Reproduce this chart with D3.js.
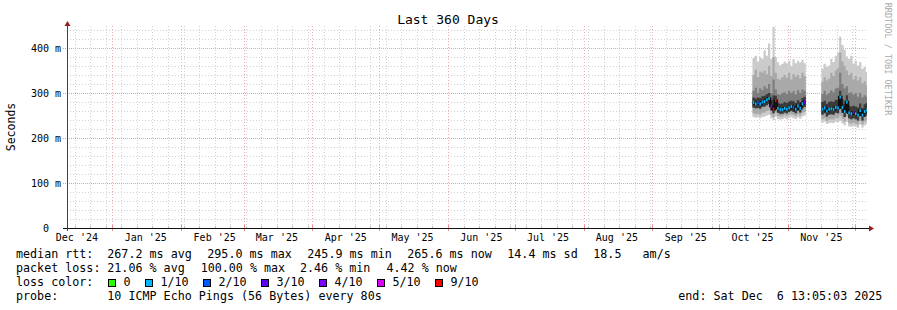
<!DOCTYPE html>
<html>
<head>
<meta charset="utf-8">
<script src="https://cdn.jsdelivr.net/npm/d3@7"></script>
<style>
  body { margin: 0; background: #fff; }
  svg { display: block; }
  text { font-family: "DejaVu Sans Mono", monospace; fill: #000; }
</style>
</head>
<body>
<div id="vis"></div>
<script>
// ---- data (values in ms) ----
// segment 1: one value per day starting 2025-10-16
const seg1Start = new Date(2025, 9, 16);
const min1    = [247, 245, 246, 244, 247, 248, 250, 252, 244, 240, 248, 242, 241, 242, 244, 242, 245, 246, 244, 242, 246, 243, 248, 250];
const lo2_1   = [255, 253, 254, 252, 256, 257, 260, 262, 252, 247, 257, 249, 248, 248, 251, 249, 252, 253, 251, 249, 253, 250, 256, 258];
const lo1_1   = [268, 266, 267, 265, 269, 270, 273, 276, 262, 255, 270, 256, 254, 254, 257, 255, 258, 260, 258, 255, 261, 257, 266, 269];
const median1 = [279, 276, 278, 276, 280, 281, 285, 288, 271, 264, 283, 266, 263, 263, 266, 264, 267, 270, 268, 264, 271, 266, 276, 280];
const hi1_1   = [290, 288, 290, 289, 293, 294, 298, 300, 284, 295, 294, 278, 276, 277, 280, 278, 281, 283, 282, 278, 284, 280, 289, 292];
const hi2_1   = [305, 312, 300, 310, 306, 315, 310, 320, 300, 330, 308, 298, 296, 300, 302, 298, 305, 300, 304, 297, 306, 300, 308, 305];
const hi3_1   = [340, 352, 335, 348, 345, 350, 342, 360, 338, 380, 345, 332, 330, 335, 340, 334, 345, 330, 342, 336, 340, 333, 345, 338];
const max1    = [378, 383, 370, 380, 376, 395, 383, 410, 376, 447, 380, 369, 362, 365, 370, 366, 372, 360, 375, 366, 372, 368, 374, 366];
const loss1   = [1, 1, 2, 1, 1, 1, 1, 1, 4, 9, 9, 1, 1, 1, 1, 1, 1, 1, 2, 1, 1, 1, 1, 4];

// segment 2: one value per day starting 2025-11-16
const seg2Start = new Date(2025, 10, 16);
const min2    = [234, 236, 231, 233, 234, 233, 236, 235, 238, 233, 228, 236, 226, 225, 226, 225, 223, 230, 223, 228, 231];
const lo2_2   = [242, 244, 238, 241, 242, 241, 245, 244, 250, 243, 236, 248, 234, 232, 234, 232, 230, 238, 230, 236, 239];
const lo1_2   = [252, 255, 248, 252, 253, 252, 256, 255, 275, 256, 247, 266, 244, 242, 244, 242, 239, 249, 239, 247, 250];
const median2 = [264, 267, 260, 264, 265, 264, 268, 267, 291, 268, 259, 280, 256, 254, 256, 254, 251, 261, 251, 259, 262];
const hi1_2   = [280, 283, 276, 280, 282, 280, 285, 284, 305, 286, 276, 295, 272, 270, 272, 270, 268, 277, 267, 275, 278];
const hi2_2   = [298, 305, 296, 300, 306, 302, 310, 312, 345, 320, 310, 315, 300, 302, 296, 300, 292, 300, 290, 295, 292];
const hi3_2   = [325, 335, 328, 332, 345, 338, 350, 355, 390, 370, 360, 350, 340, 345, 330, 338, 328, 335, 322, 326, 318];
const max2    = [354, 365, 358, 361, 376, 369, 383, 390, 425, 407, 396, 381, 376, 383, 365, 372, 361, 369, 354, 358, 347];
const loss2   = [1, 1, 1, 1, 1, 1, 1, 1, 1, 1, 1, 1, 1, 1, 4, 1, 1, 1, 1, 1, 1];

const monthLabels = ["Dec '24", "Jan '25", "Feb '25", "Mar '25", "Apr '25", "May '25",
                     "Jun '25", "Jul '25", "Aug '25", "Sep '25", "Oct '25", "Nov '25"];
const yTicks = [0, 100, 200, 300, 400];

const lossLabels = ["0", "1/10", "2/10", "3/10", "4/10", "5/10", "9/10"];
const lossLevels = [0, 1, 2, 3, 4, 5, 9];
const lossColors = ["#26ff00", "#00b8ff", "#0059ff", "#5e00ff", "#7e00ff", "#dd00ff", "#ff0000"];

const rttStats  = ["267.2 ms avg", "295.0 ms max", "245.9 ms min", "265.6 ms now", "14.4 ms sd", "18.5   am/s"];
const lossStats = ["21.06 % avg", "100.00 % max", "2.46 % min", "4.42 % now"];
const probeText = "10 ICMP Echo Pings (56 Bytes) every 80s";
const endText   = "end: Sat Dec  6 13:05:03 2025";

// ---- layout ----
const W = 897, H = 310;
const t0 = new Date(2024, 11, 11, 13, 5, 3),
      t1 = new Date(2025, 11, 6, 13, 5, 3);

const x = d3.scaleTime().domain([t0, t1]).range([67, 867]);
const y = d3.scaleLinear().domain([0, 449]).range([228, 26]);

const svg = d3.select("#vis").append("svg")
  .attr("width", W).attr("height", H);

svg.append("rect").attr("width", W).attr("height", H).attr("fill", "#fff");

const px = v => Math.round(v) + 0.5;

// grid
const grid = svg.append("g").attr("shape-rendering", "crispEdges").attr("fill", "none");

const weeks = d3.timeSunday.range(t0, t1);
const months = d3.timeMonth.range(t0, t1);

grid.selectAll(".vminor").data(weeks).enter().append("line")
  .attr("x1", d => px(x(d))).attr("x2", d => px(x(d)))
  .attr("y1", 26).attr("y2", 228)
  .attr("stroke", "#d2d2d2").attr("stroke-dasharray", "1,2");

d3.range(20, 449, 20).filter(v => v % 100 !== 0).forEach(v => {
  grid.append("line")
    .attr("x1", 67).attr("x2", 867)
    .attr("y1", px(y(v))).attr("y2", px(y(v)))
    .attr("stroke", "#d2d2d2").attr("stroke-dasharray", "1,2");
});

grid.selectAll(".vmajor").data(months).enter().append("line")
  .attr("x1", d => px(x(d))).attr("x2", d => px(x(d)))
  .attr("y1", 26).attr("y2", 231)
  .attr("stroke", "#f2acac").attr("stroke-dasharray", "1,2");

yTicks.filter(v => v > 0).forEach(v => {
  grid.append("line")
    .attr("x1", 63).attr("x2", 867)
    .attr("y1", px(y(v))).attr("y2", px(y(v)))
    .attr("stroke", "#ee9c9c").attr("stroke-dasharray", "1,1");
});

// smoke
svg.append("clipPath").attr("id", "plot")
  .append("rect").attr("x", 67).attr("y", 20).attr("width", 800).attr("height", 210);

const toPoints = (start, mn, l2, l1, md, h1, h2, h3, mx, ls) => {
  const pts = md.map((m, i) => ({
    date: d3.timeDay.offset(start, i),
    min: mn[i], lo2: l2[i], lo1: l1[i], med: m, hi1: h1[i], hi2: h2[i], hi3: h3[i], max: mx[i], loss: ls[i]
  }));
  // closing point for the last step
  pts.push(Object.assign({}, pts[pts.length - 1], { date: d3.timeDay.offset(start, md.length) }));
  return pts;
};

const segments = [
  toPoints(seg1Start, min1, lo2_1, lo1_1, median1, hi1_1, hi2_1, hi3_1, max1, loss1),
  toPoints(seg2Start, min2, lo2_2, lo1_2, median2, hi1_2, hi2_2, hi3_2, max2, loss2)
];

const layers = [
  { lo: "min", hi: "max", color: "#cbcbcb" },
  { lo: "lo2", hi: "hi3", color: "#a9a9a9" },
  { lo: "lo1", hi: "hi2", color: "#7e7e7e" },
  { lo: "lo1", hi: "hi1", color: "#3a3a3a" }
];

const smoke = svg.append("g").attr("clip-path", "url(#plot)");

segments.forEach(seg => {
  layers.forEach(l => {
    const area = d3.area()
      .curve(d3.curveStepAfter)
      .x(d => x(d.date))
      .y0(d => y(d[l.lo]))
      .y1(d => y(d[l.hi]));
    smoke.append("path").datum(seg).attr("d", area).attr("fill", l.color);
  });

  const medLine = d3.line().curve(d3.curveStepAfter).x(d => x(d.date)).y(d => y(d.med));
  smoke.append("path").datum(seg).attr("d", medLine)
    .attr("fill", "none").attr("stroke", "#111").attr("stroke-width", 2.5);

  smoke.selectAll(null).data(seg.slice(0, -1)).enter().append("rect")
    .attr("x", d => x(d.date) + 0.3)
    .attr("width", d => (x(d3.timeDay.offset(d.date, 1)) - x(d.date)) * 0.7)
    .attr("y", d => y(d.med) - 1.5)
    .attr("height", 3)
    .attr("fill", d => {
      let k = 0;
      lossLevels.forEach((lv, i) => { if (d.loss >= lv) k = i; });
      return lossColors[k];
    });
});

// axes
const axis = svg.append("g").attr("shape-rendering", "crispEdges");
axis.selectAll(".xt").data(weeks).enter().append("line")
  .attr("x1", d => px(x(d))).attr("x2", d => px(x(d)))
  .attr("y1", 226).attr("y2", 228).attr("stroke", "#bbb");
axis.selectAll(".xm").data(months).enter().append("line")
  .attr("x1", d => px(x(d))).attr("x2", d => px(x(d)))
  .attr("y1", 225).attr("y2", 231).attr("stroke", "#ea9090");

axis.append("line").attr("x1", 63).attr("x2", 870).attr("y1", 228.5).attr("y2", 228.5)
  .attr("stroke", "#111");
axis.append("line").attr("x1", 67.5).attr("x2", 67.5).attr("y1", 231).attr("y2", 25)
  .attr("stroke", "#444");
svg.append("path").attr("d", "M869,225.5L874,228.5L869,231.5Z").attr("fill", "#9b1c1c");
svg.append("path").attr("d", "M64.5,26L67.5,21L70.5,26Z").attr("fill", "#9b1c1c");

// tick labels
svg.selectAll(".yl").data(yTicks).enter().append("text")
  .attr("x", d => d === 0 ? 49 : 61)
  .attr("y", d => y(d) + 3.5)
  .attr("text-anchor", "end")
  .style("font-size", "10px")
  .text(d => d === 0 ? "0" : d + " m");

const labelMonths = d3.timeMonth.range(d3.timeMonth.floor(t0), t1);
svg.selectAll(".xl").data(labelMonths).enter().append("text")
  .attr("x", d => x(d3.timeDay.offset(d, 15)))
  .attr("y", 241)
  .attr("text-anchor", "middle")
  .style("font-size", "10px")
  .text((d, i) => monthLabels[i]);

// titles
svg.append("text").attr("x", 448).attr("y", 24).attr("text-anchor", "middle")
  .style("font-size", "13px").text("Last 360 Days");

svg.append("text").attr("transform", "translate(15,127) rotate(-90)")
  .attr("text-anchor", "middle").style("font-size", "11.5px").text("Seconds");

svg.append("text").attr("transform", "translate(884.5,59) rotate(90)")
  .attr("text-anchor", "middle").style("font-size", "8.5px").style("fill", "#aaa")
  .text("RRDTOOL / TOBI OETIKER");

// legend
const lg = svg.append("g").style("font-size", "11.7px");
const put = (tx, xx, yy) => lg.append("text").attr("x", xx).attr("y", yy)
  .style("white-space", "pre").text(tx);

put("median rtt:", 16, 258);
[107.3, 207.3, 307.3, 407.3, 507.3, 593.3].forEach((xx, i) => put(rttStats[i], xx, 258));

put("packet loss:", 16, 272);
[107.3, 200.7, 300, 386.5].forEach((xx, i) => put(lossStats[i], xx, 272));

put("loss color:", 16, 286);
[108.5, 145.5, 203.5, 261.5, 319.5, 377.5, 435.5].forEach((xx, i) => {
  lg.append("rect").attr("x", xx).attr("y", 279.5).attr("width", 7).attr("height", 7)
    .attr("fill", lossColors[i]).attr("stroke", "#000").attr("shape-rendering", "crispEdges");
  put(lossLabels[i], xx + 15, 286);
});

put("probe:", 16, 300);
put(probeText, 107.3, 300);
put(endText, 678.3, 300);
</script>
</body>
</html>
